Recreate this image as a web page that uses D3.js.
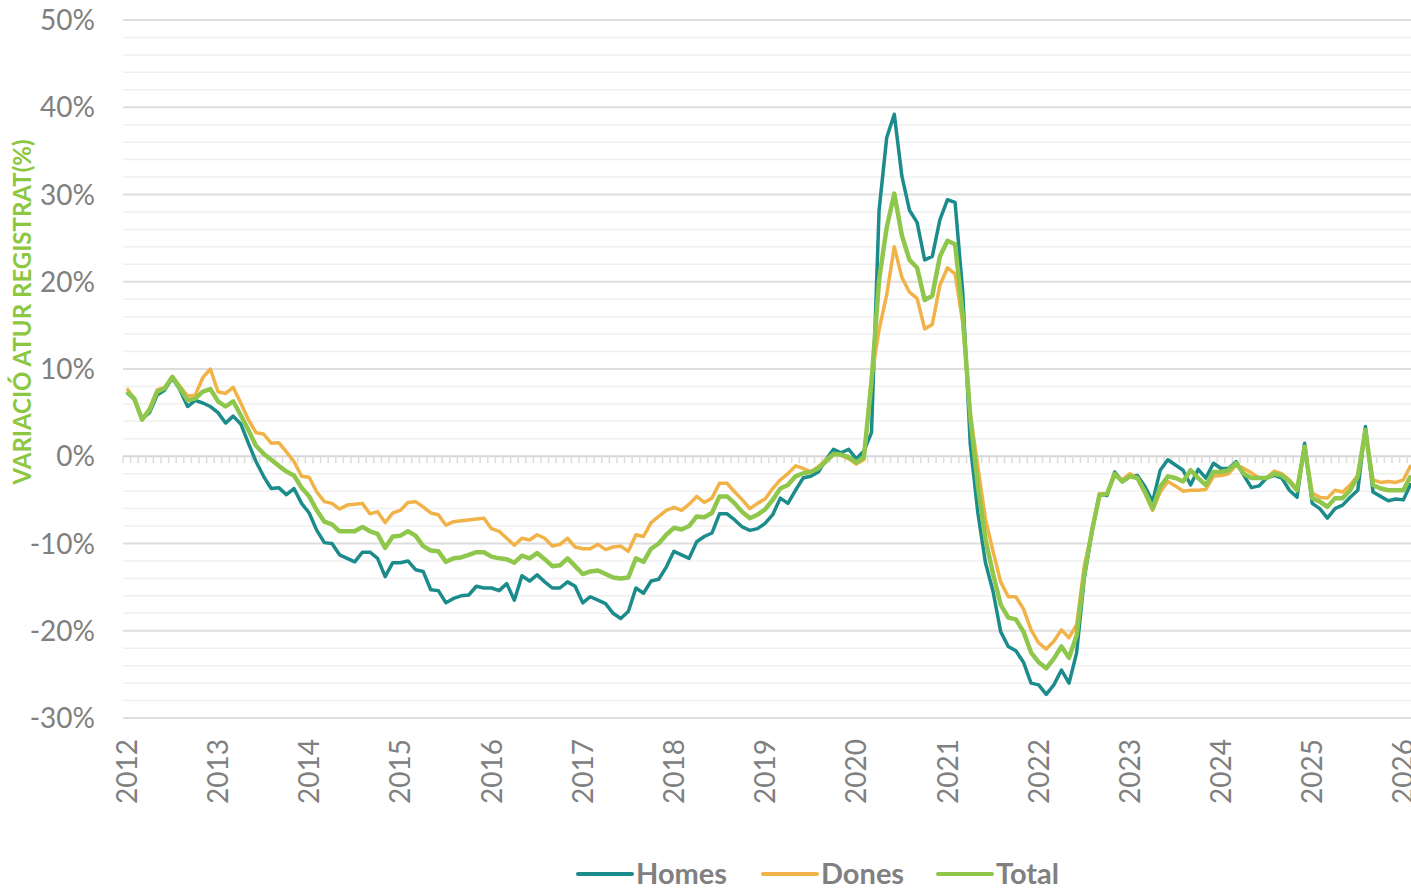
<!DOCTYPE html>
<html>
<head>
<meta charset="utf-8">
<script src="https://cdn.jsdelivr.net/npm/d3@7"></script>
<style>
  html, body { margin: 0; padding: 0; background: #fff; }
  svg { display: block; font-family: Lato, "Open Sans", sans-serif; }
</style>
</head>
<body>
<div id="grafic"></div>
<script>
// Variació interanual de l'atur registrat (%), mensual gener 2012 - febrer 2026
const homes = [
  7.3, 6.5, 4.3, 5.0, 7.0, 7.6, 9.0, 7.6, 5.7, 6.4, 6.1, 5.7,
  5.0, 3.8, 4.6, 3.7, 1.5, -0.6, -2.3, -3.7, -3.6, -4.4, -3.7, -5.4,
  -6.5, -8.5, -9.9, -10.0, -11.3, -11.7, -12.1, -11.0, -11.0, -11.7, -13.8, -12.2,
  -12.2, -12.0, -13.0, -13.2, -15.3, -15.4, -16.8, -16.3, -16.0, -15.9, -14.9, -15.1,
  -15.1, -15.4, -14.6, -16.5, -13.7, -14.3, -13.6, -14.4, -15.1, -15.1, -14.4, -14.9,
  -16.8, -16.1, -16.5, -16.9, -18.0, -18.6, -17.8, -15.1, -15.7, -14.3, -14.1, -12.7,
  -10.9, -11.3, -11.7, -9.8, -9.2, -8.8, -6.6, -6.6, -7.3, -8.1, -8.5, -8.3,
  -7.7, -6.7, -4.8, -5.4, -3.9, -2.5, -2.3, -1.8, -0.4, 0.8, 0.4, 0.8,
  -0.3, 0.6, 2.7, 28.2, 36.5, 39.2, 32.1, 28.2, 26.8, 22.5, 22.9, 27.1,
  29.4, 29.1, 18.9, 1.4, -6.5, -12.2, -15.5, -20.1, -21.8, -22.3, -23.6, -26.0,
  -26.2, -27.3, -26.2, -24.5, -26.0, -22.5, -14.0, -8.7, -4.3, -4.5, -1.8, -2.9,
  -2.3, -2.2, -3.5, -5.2, -1.6, -0.4, -1.0, -1.6, -3.3, -1.5, -2.5, -0.8,
  -1.4, -1.4, -0.6, -2.2, -3.6, -3.4, -2.5, -2.2, -2.5, -3.9, -4.7, 1.5,
  -5.4, -6.0, -7.1, -6.0, -5.6, -4.7, -3.9, 3.4, -4.1, -4.6, -5.1, -4.9,
  -5.0, -3.1
];
const dones = [
  7.8, 6.6, 4.2, 5.5, 7.6, 7.9, 9.1, 8.0, 6.9, 7.0, 9.0, 10.0,
  7.4, 7.2, 7.9, 6.1, 4.2, 2.7, 2.55, 1.5, 1.55, 0.5, -0.6, -2.3,
  -2.4, -4.1, -5.2, -5.4, -6.05, -5.6, -5.5, -5.4, -6.6, -6.35, -7.6, -6.5,
  -6.2, -5.3, -5.2, -5.8, -6.5, -6.7, -7.9, -7.5, -7.4, -7.3, -7.2, -7.1,
  -8.3, -8.6, -9.4, -10.2, -9.4, -9.6, -9.0, -9.4, -10.3, -10.1, -9.4, -10.4,
  -10.6, -10.6, -10.1, -10.7, -10.4, -10.3, -10.9, -9.0, -9.2, -7.6, -6.9, -6.2,
  -5.85, -6.2, -5.5, -4.6, -5.3, -4.8, -3.1, -3.1, -4.1, -5.0, -6.0, -5.4,
  -4.9, -3.7, -2.7, -2.0, -1.1, -1.4, -1.8, -1.2, -0.4, 0.3, 0.1, -0.3,
  -0.9, -0.4, 9.0, 14.5, 18.5, 24.0, 20.5, 18.8, 18.1, 14.6, 15.1, 19.6,
  21.6, 20.9, 15.4, 4.9, -1.2, -7.2, -10.9, -14.4, -16.1, -16.1, -17.5, -19.9,
  -21.4, -22.1, -21.2, -19.9, -20.8, -19.3, -12.6, -8.7, -4.3, -4.3, -2.2, -2.7,
  -2.0, -2.5, -4.3, -6.2, -4.1, -2.9, -3.4, -4.0, -3.9, -3.9, -3.8, -2.3,
  -2.2, -2.0, -1.0, -1.4, -1.9, -2.5, -2.5, -1.7, -2.0, -2.7, -3.7, 0.9,
  -4.2, -4.7, -4.8, -3.9, -4.1, -3.3, -2.2, 2.6, -2.7, -3.0, -2.9, -3.0,
  -2.7, -1.0
];
const total = [
  7.4, 6.6, 4.2, 5.3, 7.4, 7.8, 9.1, 7.8, 6.4, 6.6, 7.4, 7.7,
  6.3, 5.7, 6.3, 4.7, 3.0, 1.2, 0.3, -0.4, -1.1, -1.75, -2.2, -3.6,
  -4.6, -6.2, -7.5, -7.8, -8.6, -8.6, -8.6, -8.1, -8.6, -8.9, -10.5, -9.2,
  -9.1, -8.6, -9.1, -10.3, -10.8, -10.9, -12.1, -11.7, -11.6, -11.3, -11.0, -11.0,
  -11.5, -11.7, -11.8, -12.2, -11.4, -11.7, -11.1, -11.8, -12.6, -12.5, -11.7, -12.6,
  -13.5, -13.2, -13.1, -13.5, -13.9, -14.0, -13.9, -11.7, -12.1, -10.6, -10.0, -9.0,
  -8.2, -8.4, -8.0, -6.9, -7.0, -6.5, -4.6, -4.6, -5.4, -6.4, -7.1, -6.7,
  -6.1, -5.0, -3.7, -3.3, -2.3, -1.95, -1.8, -1.4, -0.6, 0.25, 0.2, -0.1,
  -0.7, -0.1, 8.5, 20.2, 26.2, 30.1, 25.3, 22.5, 21.6, 17.9, 18.4, 22.9,
  24.7, 24.3, 16.3, 4.5, -3.4, -9.5, -13.5, -17.0, -18.5, -18.7, -20.1, -22.5,
  -23.6, -24.3, -23.2, -21.8, -23.1, -20.5, -13.5, -8.6, -4.5, -4.3, -2.0, -2.9,
  -2.3, -2.5, -4.1, -6.0, -3.5, -2.3, -2.5, -2.9, -1.6, -2.5, -3.3, -1.8,
  -1.8, -1.6, -0.8, -2.0, -2.5, -2.5, -2.5, -2.0, -2.2, -2.9, -3.9, 1.1,
  -4.8, -5.2, -5.8, -4.8, -4.8, -3.9, -2.3, 3.0, -3.3, -3.7, -3.9, -3.9,
  -3.9, -2.2
];
const anys = [2012, 2013, 2014, 2015, 2016, 2017, 2018, 2019, 2020, 2021, 2022, 2023, 2024, 2025, 2026];
const yTicks = [-30, -20, -10, 0, 10, 20, 30, 40, 50];
const series = [
  { nom: "Homes", valors: homes, color: "#1b8b8b", ample: 3.5 },
  { nom: "Dones", valors: dones, color: "#f1b247", ample: 3.5 },
  { nom: "Total", valors: total, color: "#8fc64c", ample: 4.5 }
];

const width = 1411, height = 888;
const mesos = d3.timeMonth.range(new Date(2012, 0, 1), new Date(2026, 2, 1));

const svg = d3.select("#grafic")
  .append("svg")
  .attr("width", width)
  .attr("height", height);

// escales
const x = d3.scaleLinear()
  .domain([0, mesos.length - 1])
  .range([126.8, 1411]);
const pas = x(1) - x(0);
const y = d3.scaleLinear()
  .domain([-30, 50])
  .range([718, 20]);

// línies de la graella (menors cada 2%, majors cada 10%)
const menors = d3.range(-30, 51, 2).filter(d => d % 10 !== 0);
svg.append("g")
  .selectAll("line")
  .data(menors)
  .join("line")
  .attr("x1", 123).attr("x2", width)
  .attr("y1", d => y(d)).attr("y2", d => y(d))
  .attr("stroke", "#f0f0f0")
  .attr("stroke-width", 1.5);

svg.append("g")
  .selectAll("line")
  .data(yTicks)
  .join("line")
  .attr("x1", 123).attr("x2", width)
  .attr("y1", d => y(d)).attr("y2", d => y(d))
  .attr("stroke", d => d === 0 ? "#d6d6d6" : "#dedede")
  .attr("stroke-width", 2);

// marques mensuals sobre l'eix del zero
svg.append("g")
  .selectAll("line")
  .data(d3.range(mesos.length + 1))
  .join("line")
  .attr("x1", d => x(d) - pas / 2).attr("x2", d => x(d) - pas / 2)
  .attr("y1", y(0)).attr("y2", y(0) + 7)
  .attr("stroke", "#dddddd")
  .attr("stroke-width", 1.5);

// etiquetes eix Y
svg.append("g")
  .selectAll("text")
  .data(yTicks)
  .join("text")
  .attr("x", 95)
  .attr("y", d => y(d))
  .attr("dy", "0.36em")
  .attr("text-anchor", "end")
  .attr("font-size", 28)
  .attr("fill", "#808080")
  .text(d => d + "%");

// etiquetes anys (rotades)
svg.append("g")
  .selectAll("text")
  .data(anys)
  .join("text")
  .attr("transform", d => `translate(${x((d - 2012) * 12)}, 739) rotate(-90)`)
  .attr("dy", "0.36em")
  .attr("text-anchor", "end")
  .attr("font-size", 28)
  .attr("fill", "#808080")
  .text(d => d);

// títol de l'eix
svg.append("text")
  .attr("transform", "translate(31, 312) rotate(-90)")
  .attr("text-anchor", "middle")
  .attr("font-size", 24)
  .attr("font-weight", "bold")
  .attr("fill", "#8dc63f")
  .text("VARIACIÓ ATUR REGISTRAT(%)");

// sèries
const linia = d3.line()
  .x((d, i) => x(i))
  .y(d => y(d));

svg.append("g")
  .selectAll("path")
  .data(series)
  .join("path")
  .attr("d", d => linia(d.valors))
  .attr("fill", "none")
  .attr("stroke", d => d.color)
  .attr("stroke-width", d => d.ample)
  .attr("stroke-linejoin", "round");

// llegenda
const llegX = [578, 763, 938];
const lleg = svg.append("g")
  .selectAll("g")
  .data(series)
  .join("g")
  .attr("transform", (d, i) => `translate(${llegX[i]}, 874)`);

lleg.append("line")
  .attr("x1", 0).attr("x2", 54)
  .attr("stroke", d => d.color)
  .attr("stroke-width", 4)
  .attr("stroke-linecap", "round");

lleg.append("text")
  .attr("x", 58)
  .attr("dy", "0.36em")
  .attr("font-size", 29)
  .attr("font-weight", "bold")
  .attr("fill", "#808080")
  .text(d => d.nom);
</script>
</body>
</html>
